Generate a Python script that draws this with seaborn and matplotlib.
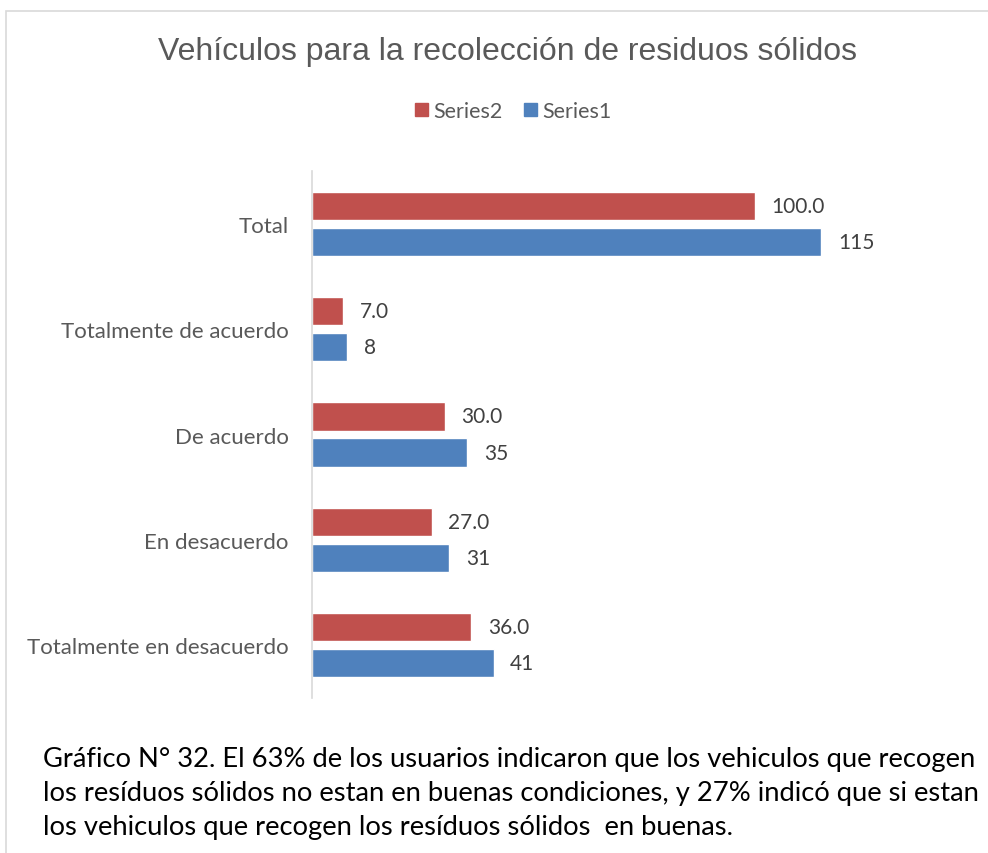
"""Vehículos para la recolección de residuos sólidos - barras horizontales agrupadas."""
import matplotlib
matplotlib.use("Agg")
import matplotlib.pyplot as plt
import seaborn as sns
import pandas as pd
from matplotlib.patches import Rectangle

categorias = ["Total", "Totalmente de acuerdo", "De acuerdo", "En desacuerdo",
              "Totalmente en desacuerdo"]
series1 = [115, 8, 35, 31, 41]
series2 = [100.0, 7.0, 30.0, 27.0, 36.0]
series_orden = ["Series2", "Series1"]
colores = {"Series2": "#C0504D", "Series1": "#4F81BD"}

titulo = "Vehículos para la recolección de residuos sólidos"
nota = ("Gráfico N° 32. El 63% de los usuarios indicaron que los vehiculos que recogen\n"
        "los resíduos sólidos no estan en buenas condiciones, y 27% indicó que si estan\n"
        "los vehiculos que recogen los resíduos sólidos  en buenas.")

sns.set_theme(style="white")
plt.rcParams["font.family"] = ["Lato", "DejaVu Sans"]


def main():
    df = pd.concat([
        pd.DataFrame({"categoria": categorias, "valor": series2, "serie": "Series2"}),
        pd.DataFrame({"categoria": categorias, "valor": series1, "serie": "Series1"}),
    ])

    W, H = 988, 854
    fig = plt.figure(figsize=(W / 100, H / 100), dpi=100)
    # marco del gráfico
    fig.patches.append(Rectangle((6 / W, -0.1), 1.1, 1 - 12 / H + 0.1, transform=fig.transFigure,
                                 fill=False, edgecolor="#D9D9D9", lw=1.2))

    ax = fig.add_axes([312 / W, 1 - 699 / H, 620 / W, 527 / H])
    sns.barplot(data=df, y="categoria", x="valor", hue="serie", hue_order=series_orden,
                palette=colores, order=categorias, orient="h", width=0.684, gap=0.22,
                saturation=1, ax=ax, legend=False)
    ax.set_xlim(0, 140)
    ax.set_ylim(4.5, -0.5)
    ax.set(xlabel="", ylabel="", xticks=[])
    for s in ["top", "right", "bottom"]:
        ax.spines[s].set_visible(False)
    ax.spines["left"].set_color("#D9D9D9")
    ax.spines["left"].set_linewidth(1.2)
    ax.tick_params(axis="y", length=0, pad=17, labelsize=16, labelcolor="#595959")

    fmts = ["{:.1f}", "{:.0f}"]
    for cont, fmt in zip(ax.containers, fmts):
        ax.bar_label(cont, labels=[fmt.format(v) for v in cont.datavalues],
                     padding=12, fontsize=15, color="#404040")

    fig.text(508 / W, 1 - 52 / H, titulo, ha="center", va="center", fontsize=23,
             color="#595959", family=["Liberation Sans", "DejaVu Sans"])

    # leyenda
    handles = [Rectangle((0, 0), 1, 1, color=colores[s]) for s in series_orden]
    fig.legend(handles, series_orden, loc="center", bbox_to_anchor=(513 / W, 1 - 112 / H),
               ncol=2, frameon=False, fontsize=15.5, handlelength=0.6, handleheight=0.6,
               handletextpad=0.25, columnspacing=1.0, labelcolor="#595959")

    fig.text(43 / W, 1 - 794 / H, nota, ha="left", va="center", fontsize=19.7,
             color="#000000", linespacing=1.45)

    fig.savefig("out.png", dpi=100)
    plt.close(fig)


if __name__ == "__main__":
    main()
